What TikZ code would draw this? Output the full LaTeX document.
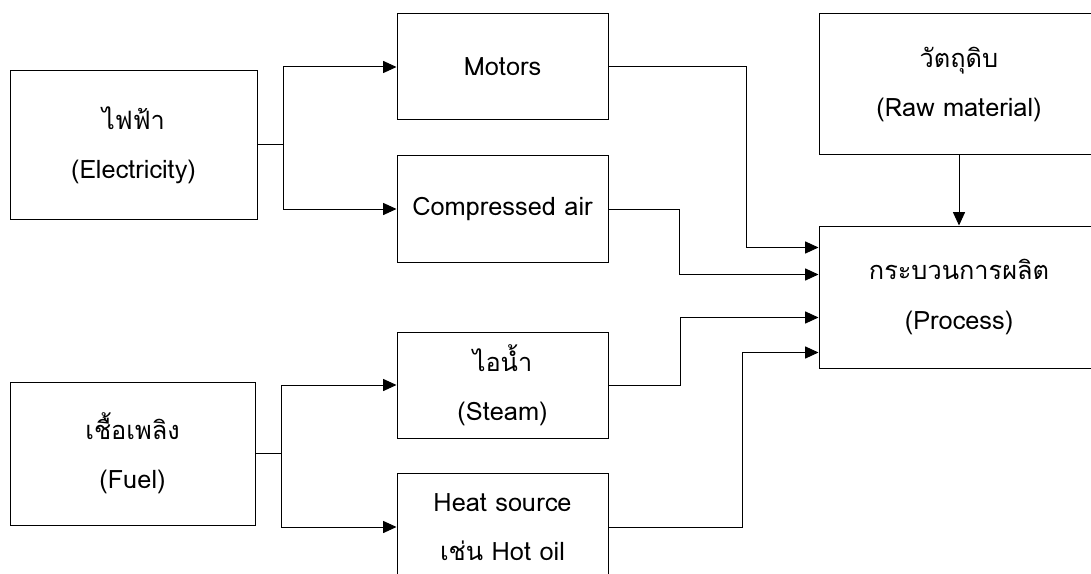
\documentclass[tikz,border=0pt]{standalone}
\usepackage{fontspec}
\setmainfont[Script=Thai]{Loma}
\usetikzlibrary{arrows.meta,calc}

\tikzset{
  box/.style 2 args={draw, line width=0.75pt, align=center, inner sep=0pt,
    minimum width=#1*0.75pt, minimum height=#2*0.75pt,
    font=\fontsize{19}{37}\selectfont},
  flow/.style={line width=0.75pt, -{Triangle[length=10pt,width=9pt]}},
  feed/.style={line width=0.75pt}
}

\begin{document}
\begin{tikzpicture}[x=0.75pt,y=-0.75pt]
  \useasboundingbox (0,0) rectangle (1091,574);

  % sources
  \node[box={247}{148}] (elec) at (133.5,145) {ไฟฟ้า\\(Electricity)};
  \node[box={245}{143}] (fuel) at (132.5,453.5) {เชื้อเพลิง\\(Fuel)};

  % utilities
  \node[box={211}{106}] (motors) at (502.5,67) {Motors};
  \node[box={211}{106}] (comp) at (502.5,209) {Compressed air};
  \node[box={211}{106}] (steam) at (502.5,385) {ไอน้ำ\\(Steam)};
  \node[box={211}{108}] (heat) at (502.5,527) {Heat source\\เช่น Hot oil};

  % process side
  \node[box={280}{141}] (raw) at (959,84.5) {วัตถุดิบ\\(Raw material)};
  \node[box={280}{142}] (proc) at (959,297) {กระบวนการผลิต\\(Process)};

  \draw[flow] (elec.east) -- ++(26,0) |- (motors.west);
  \draw[flow] (elec.east) -- ++(26,0) |- (comp.west);
  \draw[flow] (fuel.east) -- ++(26,0) |- (steam.west);
  \draw[flow] (fuel.east) -- ++(26,0) |- (heat.west);

  \draw[flow] (motors.east) -- ++(138,0) |- ($(proc.north west)+(0,22)$);
  \draw[flow] (comp.east) -- ++(71,0) |- ($(proc.north west)+(0,49)$);
  \draw[flow] (steam.east) -- ++(72,0) |- ($(proc.north west)+(0,92)$);
  \draw[flow] (heat.east) -- ++(134,0) |- ($(proc.north west)+(0,127)$);
  \draw[flow] (raw.south) -- (proc.north);
\end{tikzpicture}
\end{document}
